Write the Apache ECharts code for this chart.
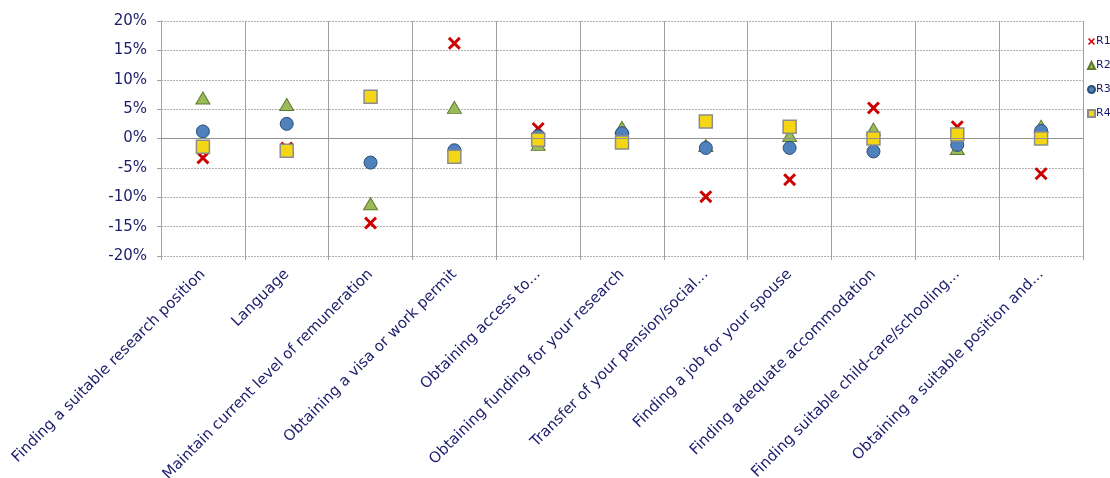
<!DOCTYPE html>
<html>
<head>
<meta charset="utf-8">
<script src="https://cdn.jsdelivr.net/npm/echarts@6/dist/echarts.min.js"></script>
<style>html,body{margin:0;padding:0;background:#fff}#c{width:1110px;height:478px}</style>
</head>
<body>
<div id="c"></div>
<script>
var categories = [
  'Finding a suitable research position',
  'Language',
  'Maintain current level of remuneration',
  'Obtaining a visa or work permit',
  'Obtaining access to...',
  'Obtaining funding for your research',
  'Transfer of your pension/social...',
  'Finding a job for your spouse',
  'Finding adequate accommodation',
  'Finding suitable child-care/schooling...',
  'Obtaining a suitable position and...'
];
var R1 = [-3.3, -1.6, -14.4, 16.2, 1.7, -0.7, -9.9, -7.0, 5.2, 2.0, -6.0];
var R2 = [6.9, 5.8, -11.1, 5.3, -1.0, 1.9, -1.2, 0.5, 1.6, -1.7, 2.1];
var R3 = [1.2, 2.5, -4.1, -2.0, 0.4, 0.9, -1.6, -1.6, -2.2, -1.1, 1.3];
var R4 = [-1.4, -2.1, 7.1, -3.1, -0.2, -0.7, 2.9, 2.0, 0.0, 0.7, 0.0];
var yTicks = {min: -20, max: 20, interval: 5};

var textColor = '#1c1c6b';
var crossPath = 'path://M0,1.6 L1.6,0 L5,3.4 L8.4,0 L10,1.6 L6.6,5 L10,8.4 L8.4,10 L5,6.6 L1.6,10 L0,8.4 L3.4,5 Z';

var chart = echarts.init(document.getElementById('c'), null, {renderer: 'canvas'});
chart.setOption({
  animation: false,
  backgroundColor: '#ffffff',
  grid: {left: 161, right: 27, top: 21, bottom: 222, containLabel: false, outerBoundsMode: 'none'},
  legend: {
    orient: 'vertical',
    left: 1082,
    top: 31,
    itemWidth: 7,
    itemHeight: 7,
    itemGap: 13,
    textStyle: {fontFamily: 'DejaVu Sans', fontSize: 11, color: textColor, padding: [0, 0, 0, -4]},
    data: ['R1', 'R2', 'R3', 'R4']
  },
  xAxis: {
    type: 'category',
    data: categories,
    boundaryGap: true,
    axisLine: {show: false, onZero: false},
    axisTick: {show: true, length: 4, lineStyle: {color: '#a0a0a0'}},
    splitLine: {show: true, lineStyle: {color: '#a0a0a0', width: 1, type: 'solid'}},
    axisLabel: {rotate: 45, interval: 0, margin: 16, fontFamily: 'DejaVu Sans', fontSize: 15, color: textColor}
  },
  yAxis: {
    type: 'value',
    min: yTicks.min, max: yTicks.max, interval: yTicks.interval,
    axisLine: {show: true, lineStyle: {color: '#a0a0a0', width: 1}},
    axisTick: {show: true, length: 4, lineStyle: {color: '#a0a0a0'}},
    splitLine: {show: true, lineStyle: {color: '#b0b0b0', width: 1, type: [2, 1]}},
    axisLabel: {formatter: '{value}%', margin: 14, fontFamily: 'DejaVu Sans', fontSize: 15, color: textColor}
  },
  series: [
    {
      name: 'R1', type: 'scatter', data: R1, symbol: crossPath, symbolSize: 13,
      itemStyle: {color: '#cc0000', opacity: 1},
      markLine: {silent: true, symbol: 'none', label: {show: false},
        lineStyle: {color: '#909090', width: 1, type: 'solid'}, data: [{yAxis: 0}]}
    },
    {
      name: 'R2', type: 'scatter', data: R2, symbol: 'triangle', symbolSize: [14, 12],
      itemStyle: {color: '#9bbb59', borderColor: '#5f7a30', borderWidth: 1, opacity: 1}
    },
    {
      name: 'R3', type: 'scatter', data: R3, symbol: 'circle', symbolSize: 13,
      itemStyle: {color: '#4f81bd', borderColor: '#2c4d75', borderWidth: 1, opacity: 1}
    },
    {
      name: 'R4', type: 'scatter', data: R4, symbol: 'rect', symbolSize: 13,
      itemStyle: {color: '#f5d614', borderColor: '#8c8c8c', borderWidth: 1.5, opacity: 1}
    }
  ]
});
</script>
</body>
</html>
